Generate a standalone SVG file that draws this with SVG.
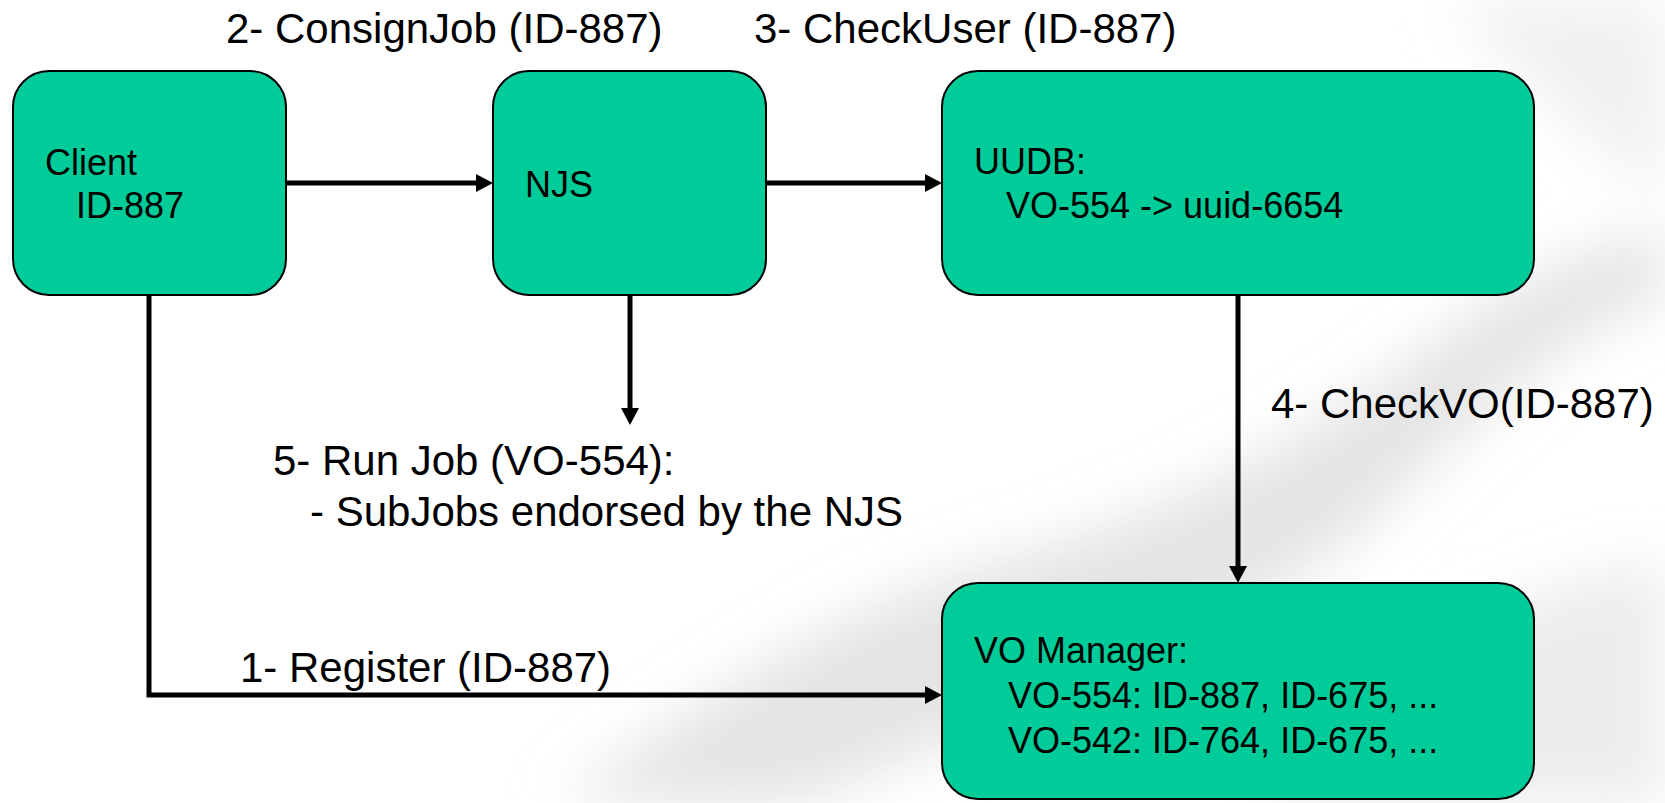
<svg xmlns="http://www.w3.org/2000/svg" width="1665" height="803" viewBox="0 0 1665 803">
<style>
.box{fill:#00CC99;stroke:#000;stroke-width:2}
.t{font-family:"Liberation Sans",Arial,sans-serif;font-size:36px;fill:#000}
.lbl{font-family:"Liberation Sans",Arial,sans-serif;font-size:42px;fill:#000}
.c{fill:none;stroke:#000;stroke-width:5}
</style>
<defs>
<marker id="ah" viewBox="0 0 17 18" refX="2" refY="9" markerWidth="17" markerHeight="18" markerUnits="userSpaceOnUse" orient="auto">
<path d="M0,0 L17,9 L0,18 z" fill="#000"/>
</marker>
<filter id="blur" x="-50%" y="-50%" width="200%" height="200%"><feGaussianBlur stdDeviation="28"/></filter>
</defs>
<rect width="1665" height="803" fill="#fff"/>
<g id="background" filter="url(#blur)">
<path d="M560,803 C700,700 850,600 1000,560 C1150,520 1300,450 1450,330 C1520,280 1600,240 1665,230 L1665,300 C1560,330 1480,420 1350,540 C1200,650 1000,720 800,803 Z" fill="#e4e4e4"/>
<path d="M1250,803 C1350,700 1450,600 1665,560 L1665,803 Z" fill="#ececec"/>
<path d="M1450,0 L1665,0 L1665,200 C1600,150 1520,80 1450,0 Z" fill="#f0f0f0"/>
</g>
<g id="connectors">
<path class="c" d="M286,183 H478" marker-end="url(#ah)"/>
<path class="c" d="M766,183 H927" marker-end="url(#ah)"/>
<path class="c" d="M630,295 V410" marker-end="url(#ah)"/>
<path class="c" d="M1238,295 V568" marker-end="url(#ah)"/>
<path class="c" d="M149,295 V695 H927" marker-end="url(#ah)"/>
</g>
<g id="client">
<rect class="box" x="13" y="71" width="273" height="224" rx="36" ry="36"/>
<text class="t" x="45" y="175">Client</text>
<text class="t" x="76" y="218">ID-887</text>
</g>
<g id="njs">
<rect class="box" x="493" y="71" width="273" height="224" rx="36" ry="36"/>
<text class="t" x="525" y="197">NJS</text>
</g>
<g id="uudb">
<rect class="box" x="942" y="71" width="592" height="224" rx="36" ry="36"/>
<text class="t" x="974" y="174">UUDB:</text>
<text class="t" x="1006" y="218">VO-554 -&gt; uuid-6654</text>
</g>
<g id="vomanager">
<rect class="box" x="942" y="583" width="592" height="216" rx="36" ry="36"/>
<text class="t" x="974" y="663">VO Manager:</text>
<text class="t" x="1008" y="708">VO-554: ID-887, ID-675, ...</text>
<text class="t" x="1008" y="753">VO-542: ID-764, ID-675, ...</text>
</g>
<g id="labels">
<text class="lbl" x="226" y="43">2- ConsignJob (ID-887)</text>
<text class="lbl" x="754" y="43">3- CheckUser (ID-887)</text>
<text class="lbl" x="1271" y="418">4- CheckVO(ID-887)</text>
<text class="lbl" x="273" y="475">5- Run Job (VO-554):</text>
<text class="lbl" x="310" y="526">- SubJobs endorsed by the NJS</text>
<text class="lbl" x="240" y="682">1- Register (ID-887)</text>
</g>
</svg>
